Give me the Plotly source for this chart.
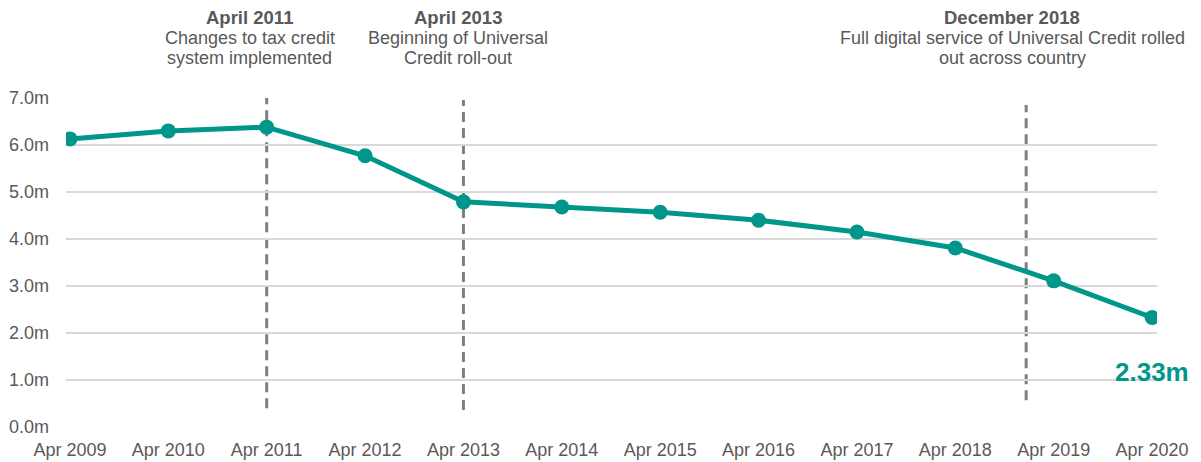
import plotly.graph_objects as go

categories = ["Apr 2009", "Apr 2010", "Apr 2011", "Apr 2012", "Apr 2013", "Apr 2014",
              "Apr 2015", "Apr 2016", "Apr 2017", "Apr 2018", "Apr 2019", "Apr 2020"]
values = [6.13, 6.30, 6.38, 5.77, 4.79, 4.68, 4.57, 4.40, 4.15, 3.81, 3.11, 2.33]
y_ticks = [0, 1, 2, 3, 4, 5, 6, 7]
y_ticktext = ["0.0m", "1.0m", "2.0m", "3.0m", "4.0m", "5.0m", "6.0m", "7.0m"]

events_x = [2, 4, 9.72]
events_title = ["April 2011", "April 2013", "December 2018"]
events_lines = [["Changes to tax credit", "system implemented"],
                ["Beginning of Universal", "Credit roll-out"],
                ["Full digital service of Universal Credit rolled", "out across country"]]
events_y = [(0.4, 7.05), (0.36, 6.96), (0.57, 6.85)]
ann_x = [1.83, 3.945, 9.58]

TEAL = "#00968A"
GREY = "#595959"
FONT = "Liberation Sans, Arial, sans-serif"

xs = list(range(len(categories)))
fig = go.Figure()
fig.add_trace(go.Scatter(x=xs, y=values, mode="lines+markers",
                         line=dict(color=TEAL, width=5),
                         marker=dict(color=TEAL, size=15),
                         hoverinfo="skip", showlegend=False))

for ex, (y0, y1) in zip(events_x, events_y):
    fig.add_shape(type="line", x0=ex, x1=ex, y0=y0, y1=y1, xref="x", yref="y",
                  line=dict(color="#7f7f7f", width=3, dash="10px,6px"), layer="below")

for ax, t, lines in zip(ann_x, events_title, events_lines):
    fig.add_annotation(x=ax, xref="x", y=1.0, yref="paper", yanchor="middle", yshift=81,
                       text=f"<b>{t}</b>", showarrow=False,
                       font=dict(family=FONT, size=18.5, color=GREY))
    for i, ln in enumerate(lines):
        fig.add_annotation(x=ax, xref="x", y=1.0, yref="paper", yanchor="middle",
                           yshift=60 - 20 * i, text=ln, showarrow=False,
                           font=dict(family=FONT, size=18, color=GREY))

fig.add_annotation(x=xs[-1], y=1.17, xref="x", yref="y", text="<b>2.33m</b>",
                   showarrow=False, font=dict(family=FONT, size=26, color=TEAL))

fig.update_layout(
    width=1201, height=462,
    margin=dict(l=66, r=44, t=98, b=35),
    paper_bgcolor="white", plot_bgcolor="white",
    font=dict(family=FONT, size=18, color=GREY),
    xaxis=dict(range=[-0.04, 11.05], tickvals=xs, ticktext=categories,
               showgrid=False, zeroline=False, showline=False, ticks="",
               ticklabelstandoff=10,
               tickfont=dict(size=18, color=GREY), fixedrange=True, automargin=False),
    yaxis=dict(range=[0, 7], tickvals=y_ticks, ticktext=y_ticktext,
               showgrid=True, gridcolor="#d9d9d9", gridwidth=2,
               zeroline=False, showline=False, ticks="", ticklabelstandoff=16,
               tickfont=dict(size=18, color=GREY), fixedrange=True, automargin=False),
)

fig.write_html("out.html", config={"displayModeBar": False},
               post_script="document.body.style.margin='0';")
